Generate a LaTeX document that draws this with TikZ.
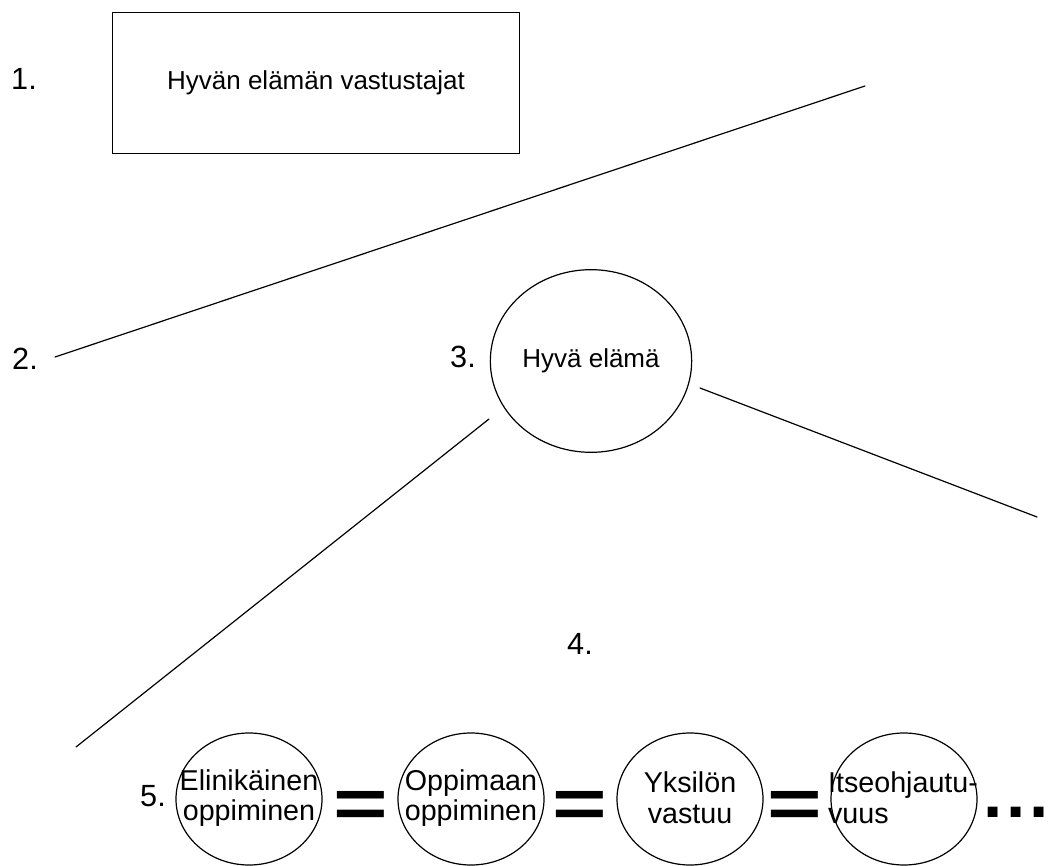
\documentclass[tikz,border=0pt]{standalone}
\usepackage{fontspec}
\setmainfont{Liberation Sans}
\usetikzlibrary{shapes.geometric}

\begin{document}
\begin{tikzpicture}[x=0.75pt,y=-0.75pt,line width=0.9pt,line cap=round,
	boxtext/.style={font=\fontsize{19.5}{22}\selectfont,inner sep=0pt},
	numtext/.style={font=\fontsize{23}{26}\selectfont,inner sep=0pt},
	bubble/.style={draw,ellipse,inner sep=0pt,minimum width=109.5pt,minimum height=99pt},
	bubbletext/.style={align=center,inner sep=0pt,font=\fontsize{21.5}{23}\selectfont},
	eqsign/.style={font=\fontsize{52}{52}\bfseries\selectfont,inner sep=0pt}]
	\useasboundingbox (0,0) rectangle (1059,866);

	\node (opponents) [draw,minimum width=305pt,minimum height=106pt,boxtext] at (316,83) {Hyvän elämän vastustajat};
	\node (goodlife) [draw,ellipse,inner sep=0pt,minimum width=151pt,minimum height=137pt,boxtext] at (591,361) {Hyvä elämä};

	\node (one) [numtext] at (24,79) {1.};
	\node (two) [numtext] at (25,359) {2.};
	\node (three) [numtext] at (463,357) {3.};
	\node (four) [numtext] at (580,644) {4.};
	\node (five) [numtext] at (153,796) {5.};

	\coordinate (lowleft) at (55,357);
	\coordinate (upright) at (865,86);
	\draw (lowleft) to (upright);

	\coordinate (leftstart) at (489,419);
	\coordinate (leftend) at (76,747);
	\draw (leftstart) to (leftend);
	\coordinate (rightstart) at (700,388);
	\coordinate (rightend) at (1037,517);
	\draw (rightstart) to (rightend);

	\node (lifelong) [bubble] at (249,799) {};
	\node (lifelongtxt) [bubbletext] at (249,798) {Elinikäinen\\oppiminen};
	\node (tolearn) [bubble] at (471,799) {};
	\node (tolearntxt) [bubbletext] at (471,798) {Oppimaan\\oppiminen};
	\node (selfresp) [bubble] at (690,799) {};
	\node (selfresptxt) [bubbletext] at (690,798) {Yksilön\\vastuu};
	\node (selfdir) [bubble] at (904,799) {};
	\node (selfdirtxt) [bubbletext,align=left] at (903,798) {Itseohjautu-\\vuus};

	\node (eqa) [eqsign] at (361,809) {\scalebox{1.35}[1]{=}};
	\node (eqb) [eqsign] at (580,809) {\scalebox{1.35}[1]{=}};
	\node (eqc) [eqsign] at (795,809) {\scalebox{1.35}[1]{=}};
	\node (dots) [eqsign] at (1016,812) {.\hspace{3pt}.\hspace{3pt}.};
\end{tikzpicture}
\end{document}
